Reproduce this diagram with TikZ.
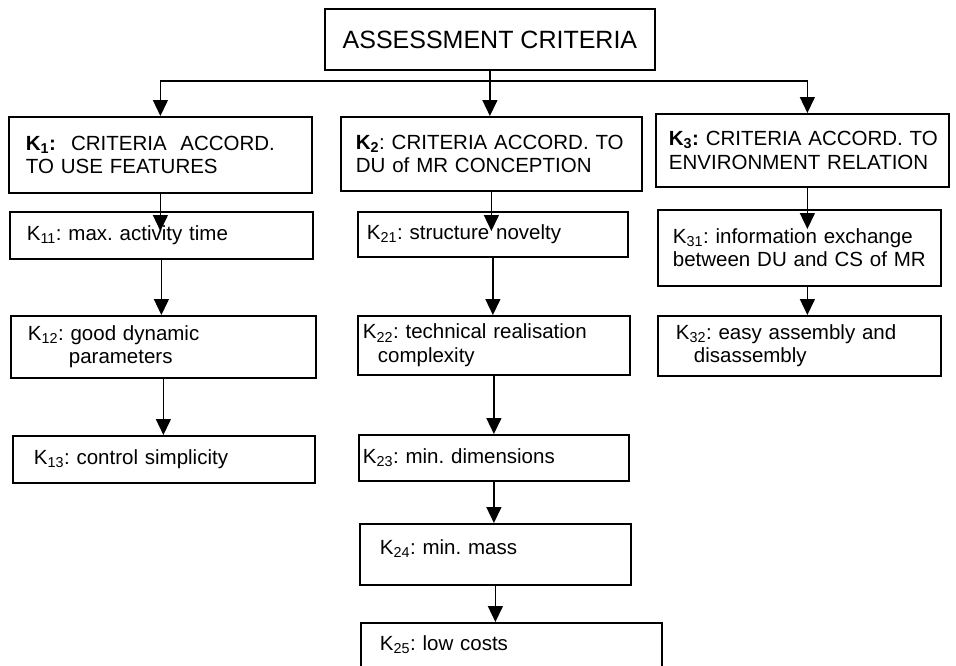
\documentclass[tikz,border=0pt]{standalone}
\usepackage{fontspec}
\setmainfont{Liberation Sans}
\frenchspacing
\hyphenpenalty=10000
\usepackage{tikz}
\usetikzlibrary{arrows.meta}
\newcommand{\kcrit}[1]{K\textsubscript{#1}}
\tikzset{
    box/.style={draw, line width=1.8pt, anchor=north west, align=left, inner ysep=0pt,
        font=\fontsize{20.5}{23.5}\selectfont},
    crit/.code n args={3}{\pgfmathsetmacro\critw{#1-2*#3}%
        \tikzset{box, minimum width=#1pt, minimum height=#2pt, inner xsep=#3pt, text width=\critw pt}},
    lift/.style={text depth=#1pt},
    arr/.style={line width=1.4pt, -{Triangle[length=16pt,width=15pt]}},
    into/.style={shorten >=-20pt},
}

\begin{document}
\begin{tikzpicture}[x=1pt, y=-1pt]
    \useasboundingbox (0,0) rectangle (956,665);
    \node[box, align=center, minimum width=330pt, minimum height=61pt,
        font=\fontsize{25}{30}\selectfont] (top) at (324,8) {ASSESSMENT CRITERIA};
    \node[crit={303}{76}{17}] (k1) at (8,116)
        {\textbf{\kcrit{1}:}\hspace{15pt}CRITERIA\ \ ACCORD.\\TO USE FEATURES};
    \node[crit={301}{74}{15}] (k2) at (340,116)
        {\textbf{\kcrit{2}}:~CRITERIA~ACCORD.~TO\\DU of MR CONCEPTION};
    \node[crit={293}{73}{13}] (k3) at (655,113)
        {\textbf{\kcrit{3}:}~CRITERIA~ACCORD.~TO\\ENVIRONMENT RELATION};
    \node[crit={303}{47}{17}] (k11) at (9,211) {\kcrit{11}: max. activity time};
    \node[crit={305}{62}{17}] (k12) at (10,315) {\kcrit{12}: good dynamic\\\hspace*{41pt}parameters};
    \node[crit={302}{47}{21}] (k13) at (12,435) {\kcrit{13}: control simplicity};
    \node[crit={270}{45}{9}] (k21) at (357,211) {\kcrit{21}: structure novelty};
    \node[crit={272}{59}{5}] (k22) at (357,315) {\kcrit{22}: technical realisation\\\hspace*{15pt}complexity};
    \node[crit={270}{46}{4}] (k23) at (358,434) {\kcrit{23}: min. dimensions};
    \node[crit={271}{61}{20}, lift=14] (k24) at (359,523) {\kcrit{24}: min. mass};
    \node[crit={301}{60}{19}, lift=19] (k25) at (360,622) {\kcrit{25}: low costs};
    \node[crit={283}{76}{15}] (k31) at (657,209) {\kcrit{31}: information exchange\\between DU and CS of MR};
    \node[crit={283}{60}{18}] (k32) at (657,315) {\kcrit{32}: easy assembly and\\\hspace*{18pt}disassembly};
    \coordinate (bus) at (489,81);
    \coordinate (c3) at ([xshift=5pt]k3.south);
    \draw[arr] (top.south) -- (top.south |- k2.north);
    \draw[arr] (bus) -| (k1.north);
    \draw[arr] (bus) -| ([xshift=5pt]k3.north);
    \draw[arr, into] (k1.south) -- (k1.south |- k11.north);
    \draw[arr] (k11.south) -- (k11.south |- k12.north);
    \draw[arr] (k12.south) -- (k12.south |- k13.north);
    \draw[arr, into] (k2.south) -- (k2.south |- k21.north);
    \draw[arr] (k21.south) -- (k21.south |- k22.north);
    \draw[arr] (k22.south) -- (k22.south |- k23.north);
    \draw[arr] (k23.south) -- (k23.south |- k24.north);
    \draw[arr] (k24.south) -- (k24.south |- k25.north);
    \draw[arr, into] (c3) -- (c3 |- k31.north);
    \draw[arr] (c3 |- k31.south) -- (c3 |- k32.north);
\end{tikzpicture}
\end{document}
